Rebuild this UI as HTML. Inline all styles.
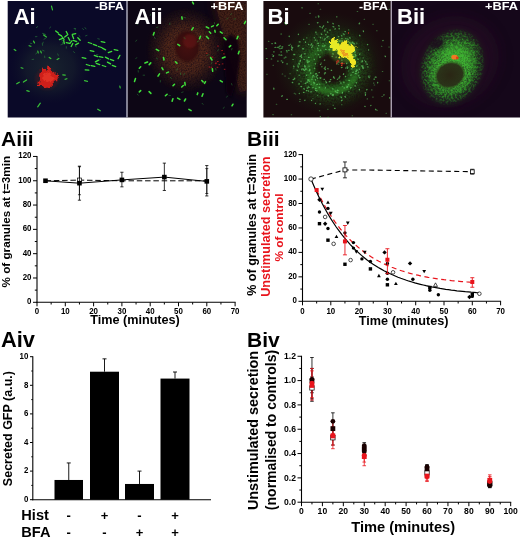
<!DOCTYPE html>
<html><head><meta charset="utf-8"><title>Figure</title>
<style>html,body{margin:0;padding:0;background:#fff}svg{display:block}</style></head>
<body>
<svg width="520" height="539" viewBox="0 0 520 539" font-family="'Liberation Sans', Arial, sans-serif" font-weight="bold">
<rect width="520" height="539" fill="#fff"/>
<defs>
<filter id="b1" x="-30%" y="-30%" width="160%" height="160%"><feGaussianBlur stdDeviation="0.45"/></filter>
<filter id="b2" x="-30%" y="-30%" width="160%" height="160%"><feGaussianBlur stdDeviation="1.2"/></filter>
<filter id="b4" x="-30%" y="-30%" width="160%" height="160%"><feGaussianBlur stdDeviation="4"/></filter>
<filter id="b7" x="-40%" y="-40%" width="180%" height="180%"><feGaussianBlur stdDeviation="7"/></filter>
<filter id="grain" x="0" y="0" width="100%" height="100%"><feTurbulence type="fractalNoise" baseFrequency="0.55" numOctaves="2" seed="5" result="n"/><feColorMatrix in="n" type="matrix" values="0 0 0 0 0 0 0 0 0 0 0 0 0 0 0 2.6 0 0 0 -0.75" result="a"/><feComposite in="SourceGraphic" in2="a" operator="in"/><feGaussianBlur stdDeviation="0.35"/></filter>
<filter id="grain2" x="0" y="0" width="100%" height="100%"><feTurbulence type="fractalNoise" baseFrequency="0.7" numOctaves="2" seed="9" result="n"/><feColorMatrix in="n" type="matrix" values="0 0 0 0 0 0 0 0 0 0 0 0 0 0 0 2.2 0 0 0 -0.45" result="a"/><feComposite in="SourceGraphic" in2="a" operator="in"/><feGaussianBlur stdDeviation="0.3"/></filter>
<filter id="grain3" x="0" y="0" width="100%" height="100%"><feTurbulence type="fractalNoise" baseFrequency="0.45" numOctaves="3" seed="21" result="n"/><feColorMatrix in="n" type="matrix" values="0 0 0 0 0 0 0 0 0 0 0 0 0 0 0 3.2 0 0 0 -1.25" result="a"/><feComposite in="SourceGraphic" in2="a" operator="in"/><feGaussianBlur stdDeviation="0.35"/></filter>
<radialGradient id="gBiiO"><stop offset="0" stop-color="#3fb832"/><stop offset="0.7" stop-color="#35a82c" stop-opacity="0.9"/><stop offset="0.9" stop-color="#2a8a25" stop-opacity="0.55"/><stop offset="1" stop-color="#1c5a18" stop-opacity="0"/></radialGradient>
<radialGradient id="gA2b"><stop offset="0" stop-color="#7a3c1e" stop-opacity="0.95"/><stop offset="0.5" stop-color="#6a361c" stop-opacity="0.9"/><stop offset="0.75" stop-color="#4a2a18" stop-opacity="0.55"/><stop offset="1" stop-color="#3a2416" stop-opacity="0"/></radialGradient>
<filter id="jag" x="-20%" y="-20%" width="140%" height="140%"><feTurbulence type="fractalNoise" baseFrequency="0.35" numOctaves="2" seed="4" result="n"/><feDisplacementMap in="SourceGraphic" in2="n" scale="5" xChannelSelector="R" yChannelSelector="G"/><feGaussianBlur stdDeviation="0.4"/></filter>
<clipPath id="cA1"><rect x="7.7" y="1" width="119.3" height="116.5"/></clipPath>
<clipPath id="cA2"><rect x="127" y="1" width="119.7" height="116.5"/></clipPath>
<clipPath id="cB1"><rect x="263.4" y="1" width="127.6" height="116.5"/></clipPath>
<clipPath id="cB2"><rect x="391" y="1" width="129" height="116.5"/></clipPath>
<radialGradient id="gBi"><stop offset="0" stop-color="#1c4a14" stop-opacity="0.3"/><stop offset="0.35" stop-color="#2a7a20" stop-opacity="0.5"/><stop offset="0.55" stop-color="#2f9028" stop-opacity="0.7"/><stop offset="0.8" stop-color="#2a7a20" stop-opacity="0.3"/><stop offset="1" stop-color="#1c4a14" stop-opacity="0"/></radialGradient>
<radialGradient id="gBi2"><stop offset="0" stop-color="#2a601e" stop-opacity="0.55"/><stop offset="0.6" stop-color="#224c1a" stop-opacity="0.35"/><stop offset="1" stop-color="#1c3014" stop-opacity="0"/></radialGradient>
<radialGradient id="gBii"><stop offset="0" stop-color="#48c43a"/><stop offset="0.65" stop-color="#42b834" stop-opacity="0.95"/><stop offset="0.85" stop-color="#38a02e" stop-opacity="0.6"/><stop offset="1" stop-color="#2a8a25" stop-opacity="0"/></radialGradient>
<radialGradient id="gNuc"><stop offset="0" stop-color="#2a2614"/><stop offset="0.78" stop-color="#2a2e18" stop-opacity="0.95"/><stop offset="1" stop-color="#2f5a1c" stop-opacity="0"/></radialGradient>
<radialGradient id="gA2"><stop offset="0" stop-color="#5a2416" stop-opacity="0.9"/><stop offset="0.5" stop-color="#4a2216" stop-opacity="0.75"/><stop offset="1" stop-color="#2a1412" stop-opacity="0"/></radialGradient>
<radialGradient id="gA2n"><stop offset="0" stop-color="#451010"/><stop offset="0.75" stop-color="#360d0e" stop-opacity="0.97"/><stop offset="1" stop-color="#30100e" stop-opacity="0"/></radialGradient>
<radialGradient id="gA1"><stop offset="0" stop-color="#1c2a30" stop-opacity="0.8"/><stop offset="0.6" stop-color="#18222c" stop-opacity="0.55"/><stop offset="1" stop-color="#101428" stop-opacity="0"/></radialGradient>
</defs>
<g clip-path="url(#cA1)">
<rect x="7" y="0" width="121" height="118" fill="#0a0928"/>
<ellipse cx="50" cy="68" rx="40" ry="36" fill="url(#gA1)"/>
<g filter="url(#jag)"><path d="M40 72 L43 67 L46 70 L48 66 L51 70 L54 72 L58 76 L57 81 L53 83 L51 87 L46 88 L42 86 L38 86 L37 83 L41 80 L39 76 Z" fill="#e3221c"/><path d="M44 74 L48 72 L52 76 L55 78 L52 81 L47 82 L43 80Z" fill="#ff4030" opacity="0.8"/></g>
<ellipse cx="47" cy="79" rx="12" ry="11" fill="#801818" opacity="0.2" filter="url(#b2)"/>
<g stroke="#3fe03a" stroke-width="1.3" stroke-linecap="round" filter="url(#b1)" opacity="1">
<path d="M55.7 30.9L58.3 33.1"/>
<path d="M58.5 34.1L61.5 35.9"/>
<path d="M61.9 36.7L64.1 39.3"/>
<path d="M64.7 37.1L67.3 34.9"/>
<path d="M68.2 37.5L69.8 40.5"/>
<path d="M69.9 43.3L72.1 40.7"/>
<path d="M72.4 35.4L73.6 38.6"/>
<path d="M73.4 40.4L76.6 41.6"/>
<path d="M75.5 44.9L78.5 43.1"/>
<path d="M66.3 42.7L69.7 43.3"/>
<path d="M63.7 40.3L64.3 43.7"/>
<path d="M77.8 37.8L80.2 40.2"/>
<path d="M71.2 46.5L72.8 43.5"/>
<path d="M59.4 39.6L62.6 38.4"/>
<path d="M66.2 31.5L67.8 34.5"/>
<path d="M72.3 34.3L75.7 33.7"/>
</g>
<g stroke="#3fe03a" stroke-width="1.3" stroke-linecap="round" filter="url(#b1)" opacity="1">
<path d="M82.2 57.7L85.8 58.3"/>
<path d="M88.3 42.5L91.7 43.5"/>
<path d="M93.3 44.4L96.7 45.6"/>
<path d="M98.3 46.5L101.7 47.5"/>
<path d="M102.4 48.2L105.6 49.8"/>
<path d="M94.3 55.4L97.7 56.6"/>
<path d="M99.2 56.7L102.8 57.3"/>
<path d="M105.4 57.1L108.6 58.9"/>
<path d="M110.3 59.4L113.7 60.6"/>
<path d="M86.3 64.5L89.7 65.5"/>
<path d="M91.2 65.7L94.8 66.3"/>
<path d="M96.3 63.4L99.7 64.6"/>
<path d="M102.3 65.5L105.7 66.5"/>
<path d="M108.3 52.6L111.7 51.4"/>
<path d="M114.2 49.7L117.8 50.3"/>
<path d="M118.1 58.6L119.9 55.4"/>
<path d="M90.2 50.7L93.8 51.3"/>
<path d="M85.2 69.8L88.8 70.2"/>
<path d="M107.4 62.1L110.6 63.9"/>
<path d="M95.4 61.9L98.6 60.1"/>
<path d="M112.3 65.4L115.7 66.6"/>
<path d="M101.2 41.7L104.8 42.3"/>
</g>
<g stroke="#3fe03a" stroke-width="1.2" stroke-linecap="round" filter="url(#b1)" opacity="0.85">
<path d="M51.5 6.1L52.5 9.9"/>
<path d="M43.6 35.0L46.4 37.0"/>
<path d="M29.1 45.7L30.9 46.3"/>
<path d="M37.8 51.0L38.2 53.0"/>
<path d="M40.7 51.1L41.3 52.9"/>
<path d="M33.5 41.1L34.5 42.9"/>
<path d="M23.4 82.1L26.6 79.9"/>
<path d="M16.7 83.8L19.3 82.2"/>
<path d="M37.7 106.8L40.3 103.2"/>
<path d="M26.8 90.6L29.2 91.4"/>
<path d="M62.8 74.8L65.2 75.2"/>
<path d="M65.1 79.3L66.9 78.7"/>
<path d="M84.5 80.7L87.5 81.3"/>
<path d="M57.1 59.5L58.9 58.5"/>
<path d="M49.2 57.4L50.8 58.6"/>
<path d="M97.7 109.2L100.3 110.8"/>
<path d="M14.2 49.4L15.8 50.6"/>
<path d="M119.8 86.0L120.2 88.0"/>
<path d="M21.1 67.7L22.9 68.3"/>
</g>
<g stroke="#2f9a40" stroke-width="0.9" stroke-linecap="round" filter="url(#b1)" opacity="0.55">
<path d="M62.4 44.4L60.9 44.8"/>
<path d="M62.8 42.0L62.4 43.5"/>
<path d="M43.2 42.2L42.6 43.7"/>
<path d="M85.0 27.6L86.0 28.9"/>
<path d="M36.8 52.7L35.9 54.0"/>
<path d="M33.7 59.3L32.1 59.5"/>
<path d="M75.1 46.2L76.5 46.9"/>
<path d="M30.3 43.3L31.8 43.6"/>
<path d="M42.5 33.4L44.1 33.5"/>
<path d="M63.2 40.0L61.8 40.8"/>
<path d="M66.3 46.6L66.3 48.2"/>
<path d="M75.9 40.4L76.9 41.6"/>
<path d="M100.5 59.5L99.1 60.2"/>
<path d="M78.9 35.5L80.1 36.6"/>
<path d="M50.8 26.9L49.6 28.0"/>
<path d="M57.7 53.9L58.3 55.4"/>
<path d="M96.3 54.7L97.9 54.7"/>
<path d="M44.6 56.1L44.8 57.7"/>
<path d="M97.8 38.7L99.4 39.1"/>
<path d="M73.5 51.6L74.6 52.8"/>
<path d="M36.9 36.6L35.3 36.7"/>
<path d="M82.5 28.6L83.6 29.7"/>
<path d="M37.7 26.6L36.4 27.6"/>
<path d="M42.3 43.8L42.6 45.4"/>
<path d="M42.6 50.3L44.1 50.9"/>
<path d="M74.9 28.3L75.3 29.9"/>
<path d="M45.7 34.4L44.1 34.5"/>
<path d="M87.0 35.4L85.5 35.9"/>
<path d="M45.5 38.4L44.0 39.2"/>
<path d="M75.7 28.5L74.1 28.5"/>
</g>
</g>
<g clip-path="url(#cA2)">
<rect x="126" y="0" width="122" height="118" fill="#0d0615"/>
<ellipse cx="186" cy="50" rx="42" ry="44" fill="url(#gA2)" opacity="0.55"/>
<g filter="url(#grain2)" opacity="0.62"><ellipse cx="186" cy="50" rx="40" ry="43" fill="url(#gA2b)"/></g>
<path d="M212 0 L249 0 L249 92 L240 96 L232 70 L224 40 L216 18Z" fill="#34180f" opacity="0.7" filter="url(#b4)"/>
<g filter="url(#grain2)" opacity="0.4"><path d="M214 0 L249 0 L249 90 L240 92 L232 66 L224 38Z" fill="#6a3a22"/></g>
<path d="M223 42 L231 34 L238 40 L240 58 L237 80 L231 98 L226 92 L225 70Z" fill="#0a0410" opacity="0.92" filter="url(#b2)"/>
<ellipse cx="187" cy="46.2" rx="14" ry="18" fill="url(#gA2n)"/>
<ellipse cx="190" cy="41" rx="7" ry="7" fill="#701612" opacity="0.5" filter="url(#b2)"/>
<g stroke="#3fe03a" stroke-width="1.55" stroke-linecap="round" filter="url(#b1)" opacity="1">
<path d="M181.8 16.9L182.2 19.1"/>
<path d="M191.8 29.9L193.2 27.6"/>
<path d="M206.3 26.8L208.7 28.2"/>
<path d="M211.6 26.6L213.4 25.9"/>
<path d="M216.8 25.7L218.2 24.3"/>
<path d="M214.8 30.4L215.2 32.1"/>
<path d="M220.3 31.9L222.2 33.1"/>
<path d="M209.3 31.8L210.7 33.2"/>
<path d="M224.0 37.8L226.0 39.7"/>
<path d="M237.0 38.8L238.0 36.2"/>
<path d="M238.3 53.7L239.2 51.3"/>
<path d="M210.5 57.5L212.0 60.0"/>
<path d="M212.3 68.7L212.7 71.3"/>
<path d="M153.3 35.0L154.2 32.5"/>
<path d="M163.5 57.5L164.0 60.0"/>
<path d="M144.9 63.0L147.6 62.0"/>
<path d="M149.2 64.6L150.8 62.9"/>
<path d="M139.3 68.2L140.7 66.8"/>
<path d="M162.0 67.8L163.0 69.7"/>
<path d="M166.5 72.9L168.5 72.1"/>
<path d="M175.5 61.7L177.0 63.3"/>
<path d="M134.5 81.4L135.5 78.6"/>
<path d="M139.3 91.9L140.7 90.6"/>
<path d="M149.1 91.6L150.9 93.4"/>
<path d="M173.0 85.8L174.5 84.2"/>
<path d="M184.8 82.4L185.2 85.1"/>
<path d="M181.7 87.0L183.3 85.5"/>
<path d="M201.8 80.5L203.2 82.0"/>
<path d="M204.5 83.4L205.5 81.6"/>
<path d="M220.2 80.6L222.3 81.9"/>
<path d="M197.2 94.6L197.8 92.9"/>
<path d="M202.0 96.3L203.0 93.7"/>
<path d="M177.6 98.1L179.9 99.4"/>
<path d="M172.1 101.2L172.9 98.8"/>
<path d="M184.4 101.0L185.6 99.0"/>
<path d="M188.9 109.3L191.1 110.7"/>
<path d="M232.0 105.8L233.0 104.2"/>
<path d="M165.4 95.8L167.1 94.2"/>
<path d="M192.5 2.1L193.5 3.9"/>
<path d="M229.3 46.9L230.7 45.6"/>
<path d="M156.3 49.3L158.7 50.7"/>
<path d="M199.5 38.8L200.5 36.2"/>
<path d="M177.8 44.4L179.7 45.6"/>
<path d="M206.5 36.5L208.5 38.5"/>
<path d="M222.4 58.0L225.1 57.0"/>
<path d="M158.0 76.2L159.5 73.8"/>
<path d="M244.4 23.6L245.6 21.4"/>
</g>
<g stroke="#2f9a40" stroke-width="0.9" stroke-linecap="round" filter="url(#b1)" opacity="0.5">
<path d="M177.3 68.7L176.8 70.1"/>
<path d="M144.6 75.2L143.1 75.2"/>
<path d="M231.5 83.6L232.0 85.0"/>
<path d="M215.7 68.5L216.0 70.0"/>
<path d="M227.8 18.0L226.7 19.1"/>
<path d="M138.2 70.6L138.3 72.1"/>
<path d="M160.3 80.5L160.3 82.0"/>
<path d="M202.1 103.3L203.1 104.4"/>
<path d="M136.6 40.1L135.8 41.3"/>
<path d="M158.0 27.1L156.6 27.5"/>
<path d="M208.3 54.8L206.9 55.3"/>
<path d="M170.4 77.5L171.6 78.4"/>
<path d="M183.1 92.0L181.7 92.4"/>
<path d="M232.0 48.5L231.6 49.9"/>
<path d="M169.8 23.1L169.8 24.6"/>
<path d="M227.5 96.0L226.6 97.2"/>
<path d="M238.9 37.9L240.1 38.6"/>
<path d="M184.0 37.6L185.2 38.5"/>
<path d="M180.5 73.1L180.6 74.6"/>
<path d="M170.4 95.5L168.9 95.6"/>
<path d="M184.0 17.5L185.5 17.7"/>
<path d="M231.5 13.6L230.6 14.8"/>
<path d="M198.4 41.1L197.2 42.0"/>
<path d="M137.0 23.1L137.2 24.6"/>
<path d="M137.2 94.1L138.3 95.1"/>
<path d="M150.8 14.1L150.2 15.5"/>
<path d="M184.5 73.6L183.8 74.9"/>
<path d="M224.2 107.1L223.4 108.4"/>
<path d="M156.3 58.1L157.6 58.9"/>
<path d="M136.7 57.6L135.7 58.8"/>
<path d="M154.4 37.1L155.1 38.4"/>
<path d="M212.0 62.4L211.4 63.8"/>
<path d="M218.8 49.7L217.6 50.6"/>
<path d="M235.4 18.7L234.0 19.1"/>
<path d="M214.4 22.5L214.6 24.0"/>
</g>
<g stroke="#d02020" stroke-width="0.9" stroke-linecap="round" filter="url(#b1)" opacity="0.8">
<path d="M217.1 67.3L217.9 67.3"/>
<path d="M212.1 57.1L212.9 57.1"/>
<path d="M222.2 63.9L223.0 63.9"/>
<path d="M223.5 53.9L224.3 53.9"/>
<path d="M217.6 46.1L218.4 46.1"/>
<path d="M219.0 64.6L219.8 64.6"/>
<path d="M217.4 61.5L218.2 61.5"/>
<path d="M208.9 67.0L209.7 67.0"/>
<path d="M224.2 69.3L225.0 69.3"/>
<path d="M215.3 63.7L216.1 63.7"/>
<path d="M211.0 67.3L211.8 67.3"/>
<path d="M221.7 50.5L222.5 50.5"/>
<path d="M206.3 53.2L207.1 53.2"/>
<path d="M215.6 63.0L216.4 63.0"/>
</g>
</g>
<g clip-path="url(#cB1)">
<rect x="262" y="0" width="130" height="118" fill="#190b0e"/>
<ellipse cx="330" cy="64" rx="56" ry="52" fill="url(#gBi2)"/>
<g filter="url(#grain)" opacity="0.65"><ellipse cx="332" cy="67" rx="46" ry="44" fill="url(#gBi)"/></g>
<ellipse cx="332" cy="68" rx="23" ry="22" fill="none" stroke="#2a7a24" stroke-width="8" opacity="0.38" filter="url(#b2)"/>
<path d="M309 78 Q316 93 334 92 Q350 90 356 76" fill="none" stroke="#309028" stroke-width="5" opacity="0.42" filter="url(#b2)"/>
<ellipse cx="332" cy="68.5" rx="15.5" ry="15" fill="#1b110c" opacity="0.85" filter="url(#b2)"/>
<g stroke="#62d066" stroke-width="1.25" stroke-linecap="round" filter="url(#b1)" opacity="0.7">
<path d="M342.1 38.3L341.8 38.5"/>
<path d="M327.8 68.7L328.1 68.8"/>
<path d="M359.6 23.1L359.1 23.8"/>
<path d="M320.4 64.4L320.7 64.5"/>
<path d="M327.2 36.9L326.9 37.5"/>
<path d="M346.0 43.2L346.2 43.6"/>
<path d="M342.1 100.2L341.4 100.6"/>
<path d="M273.5 55.8L273.4 56.1"/>
<path d="M299.2 41.8L300.1 41.9"/>
<path d="M300.4 61.0L300.0 61.3"/>
<path d="M377.7 82.4L377.6 82.9"/>
<path d="M338.6 61.8L338.9 62.2"/>
<path d="M342.3 40.9L341.8 41.1"/>
<path d="M319.2 87.2L319.7 87.5"/>
<path d="M334.4 46.6L334.7 46.6"/>
<path d="M335.2 91.0L335.4 91.3"/>
<path d="M328.9 49.7L329.4 49.9"/>
<path d="M330.9 93.4L330.9 93.9"/>
<path d="M304.0 59.4L304.3 59.5"/>
<path d="M312.7 45.6L312.5 46.2"/>
<path d="M349.2 42.6L349.8 43.0"/>
<path d="M345.4 31.6L345.0 31.7"/>
<path d="M337.8 92.7L337.0 92.7"/>
<path d="M375.5 109.3L376.0 109.8"/>
<path d="M342.9 45.0L342.7 45.2"/>
<path d="M315.6 73.8L315.5 73.9"/>
<path d="M347.4 54.8L347.1 54.8"/>
<path d="M282.9 62.2L282.5 62.6"/>
<path d="M358.4 75.9L359.0 76.0"/>
<path d="M308.0 61.9L307.9 62.2"/>
<path d="M338.4 53.6L338.1 53.7"/>
<path d="M353.4 72.2L352.8 72.3"/>
<path d="M305.9 68.5L306.1 69.1"/>
<path d="M362.9 66.1L362.5 66.7"/>
<path d="M329.7 46.4L329.8 46.8"/>
<path d="M348.9 91.4L348.9 91.6"/>
<path d="M318.0 22.6L317.4 22.8"/>
<path d="M299.1 83.6L299.0 84.1"/>
<path d="M328.3 117.3L327.6 117.5"/>
<path d="M332.9 53.5L333.1 54.3"/>
<path d="M335.4 28.8L335.0 29.1"/>
<path d="M324.5 30.9L324.9 31.0"/>
<path d="M314.2 83.4L314.1 83.8"/>
<path d="M353.3 56.3L353.7 56.9"/>
<path d="M301.6 86.5L300.9 86.5"/>
<path d="M325.0 45.5L324.3 46.1"/>
<path d="M327.6 22.0L327.9 22.3"/>
<path d="M358.5 72.1L358.6 72.3"/>
<path d="M309.0 57.4L308.4 57.4"/>
<path d="M401.2 61.7L400.8 62.4"/>
<path d="M333.0 26.7L333.8 26.8"/>
<path d="M343.8 82.2L343.9 82.5"/>
<path d="M374.5 79.1L374.0 79.2"/>
<path d="M307.0 60.1L307.2 60.5"/>
<path d="M325.5 87.7L325.2 88.1"/>
<path d="M367.8 66.9L368.0 67.0"/>
<path d="M305.9 83.1L305.2 83.3"/>
<path d="M376.1 77.2L375.2 77.2"/>
<path d="M273.8 88.2L273.9 89.1"/>
<path d="M332.4 94.7L332.3 95.5"/>
<path d="M342.1 62.5L342.0 62.8"/>
<path d="M303.7 39.3L303.7 39.6"/>
<path d="M359.3 89.3L359.4 89.9"/>
<path d="M314.3 68.1L314.7 68.5"/>
<path d="M281.8 55.2L280.9 55.2"/>
<path d="M327.9 36.4L328.1 36.5"/>
<path d="M298.3 34.2L298.5 34.5"/>
<path d="M316.0 32.0L315.9 32.6"/>
<path d="M345.0 96.5L345.6 97.1"/>
<path d="M367.7 44.5L367.5 44.6"/>
<path d="M306.6 75.2L306.5 75.4"/>
<path d="M299.9 56.4L300.5 56.6"/>
<path d="M299.3 93.3L299.3 93.6"/>
<path d="M320.9 77.8L320.4 78.4"/>
<path d="M338.0 47.7L337.7 48.3"/>
<path d="M337.6 90.1L338.1 90.7"/>
<path d="M365.7 61.6L366.0 62.1"/>
<path d="M330.3 30.1L329.8 30.2"/>
<path d="M353.5 43.2L354.1 43.4"/>
<path d="M298.0 66.5L298.4 67.1"/>
<path d="M318.3 45.6L318.7 45.7"/>
<path d="M325.8 34.6L326.0 34.9"/>
<path d="M307.0 87.9L307.6 88.1"/>
<path d="M292.7 47.5L291.8 47.7"/>
<path d="M341.6 35.7L341.8 36.0"/>
<path d="M313.6 75.7L312.8 75.9"/>
<path d="M315.4 79.7L315.5 80.1"/>
<path d="M342.5 92.4L342.3 93.1"/>
<path d="M275.1 42.8L275.7 43.2"/>
<path d="M345.4 51.7L345.5 51.9"/>
<path d="M292.5 48.1L291.9 48.1"/>
<path d="M340.0 40.7L339.9 41.5"/>
<path d="M329.8 49.4L329.6 49.5"/>
<path d="M311.7 43.9L311.3 44.4"/>
<path d="M333.5 42.4L333.1 42.7"/>
<path d="M317.5 84.4L316.8 84.5"/>
<path d="M323.6 25.8L323.1 26.5"/>
<path d="M325.3 67.0L324.9 67.7"/>
<path d="M350.3 49.4L349.7 49.5"/>
<path d="M273.6 55.8L273.1 56.4"/>
<path d="M351.2 87.4L350.6 88.0"/>
<path d="M316.5 76.8L316.8 77.0"/>
<path d="M357.8 59.2L358.2 59.3"/>
<path d="M343.7 73.7L343.4 74.4"/>
<path d="M304.4 70.4L304.1 70.5"/>
<path d="M356.2 82.7L356.5 82.9"/>
<path d="M336.0 91.9L336.2 92.2"/>
<path d="M332.9 23.3L333.3 23.8"/>
<path d="M330.1 81.4L329.3 81.7"/>
<path d="M311.1 91.3L311.0 92.2"/>
<path d="M356.5 71.3L355.7 71.4"/>
<path d="M312.0 79.1L311.9 79.5"/>
<path d="M334.5 108.3L335.1 108.3"/>
<path d="M325.5 69.1L325.2 69.6"/>
<path d="M317.0 90.6L316.5 90.8"/>
<path d="M318.2 50.2L317.8 50.2"/>
<path d="M333.4 44.1L334.2 44.1"/>
<path d="M336.0 57.1L336.4 57.2"/>
<path d="M305.6 66.9L305.0 67.0"/>
<path d="M342.4 50.5L342.9 51.1"/>
<path d="M384.1 94.8L383.8 95.0"/>
<path d="M293.9 54.4L293.9 54.7"/>
<path d="M324.0 79.3L324.4 79.4"/>
<path d="M303.9 69.0L303.6 69.3"/>
<path d="M308.9 79.9L308.2 80.0"/>
<path d="M320.3 50.2L320.8 50.2"/>
<path d="M304.3 53.8L305.2 53.8"/>
<path d="M338.9 40.7L339.4 41.1"/>
<path d="M301.5 57.0L301.7 57.4"/>
<path d="M314.2 37.6L314.4 37.8"/>
<path d="M355.8 55.8L355.5 56.1"/>
<path d="M345.7 38.3L345.9 38.4"/>
<path d="M319.8 26.5L320.2 26.8"/>
<path d="M346.9 40.2L346.8 40.4"/>
<path d="M348.8 80.3L349.6 80.5"/>
<path d="M310.7 72.8L310.7 73.5"/>
<path d="M309.2 81.2L309.2 81.4"/>
<path d="M282.3 95.7L281.8 96.4"/>
<path d="M318.2 54.7L318.6 54.7"/>
<path d="M304.9 100.2L304.8 100.5"/>
<path d="M338.7 36.5L338.2 36.8"/>
<path d="M347.7 86.7L347.1 87.3"/>
<path d="M298.8 63.8L299.4 64.1"/>
<path d="M362.5 61.3L362.0 61.9"/>
<path d="M310.8 45.2L311.0 45.3"/>
<path d="M333.6 130.1L333.4 130.8"/>
<path d="M306.5 90.4L306.5 90.7"/>
<path d="M395.3 54.0L396.0 54.3"/>
<path d="M291.5 49.5L292.1 50.1"/>
<path d="M347.0 63.1L346.5 63.5"/>
<path d="M320.3 103.9L320.0 104.0"/>
<path d="M291.7 46.0L291.4 46.2"/>
<path d="M347.1 66.8L347.8 67.3"/>
<path d="M355.5 54.7L355.9 55.3"/>
<path d="M324.3 60.1L324.7 60.2"/>
<path d="M296.9 70.2L297.4 70.4"/>
<path d="M308.8 61.3L309.2 61.7"/>
<path d="M315.4 88.4L316.1 88.4"/>
<path d="M289.2 36.1L289.2 36.6"/>
<path d="M285.0 22.3L284.6 23.0"/>
<path d="M337.1 63.7L336.6 63.9"/>
<path d="M294.7 78.2L294.5 79.0"/>
<path d="M293.6 79.4L293.2 79.6"/>
<path d="M342.1 67.4L341.4 67.6"/>
<path d="M315.5 103.3L315.4 103.5"/>
<path d="M355.1 85.5L355.2 86.1"/>
<path d="M320.4 37.5L320.7 37.8"/>
<path d="M307.6 80.0L308.5 80.2"/>
<path d="M363.3 30.8L363.5 31.6"/>
<path d="M333.7 76.7L333.5 77.6"/>
<path d="M365.5 94.4L365.4 95.3"/>
<path d="M366.9 64.0L367.2 64.3"/>
<path d="M339.1 58.0L339.2 58.5"/>
<path d="M302.6 48.8L303.4 48.9"/>
<path d="M347.6 57.4L347.1 57.5"/>
<path d="M341.0 97.0L341.5 97.7"/>
<path d="M342.0 47.4L342.2 47.9"/>
<path d="M339.6 77.7L338.8 78.1"/>
<path d="M337.6 79.2L337.4 79.3"/>
<path d="M367.0 89.5L366.7 89.8"/>
<path d="M318.3 16.0L318.9 16.3"/>
<path d="M368.6 49.8L368.6 50.1"/>
<path d="M324.1 39.8L324.4 40.0"/>
<path d="M315.5 40.0L315.2 40.2"/>
<path d="M298.8 45.4L299.1 45.7"/>
<path d="M383.1 40.4L382.9 40.7"/>
<path d="M362.2 60.7L362.1 61.3"/>
<path d="M345.9 67.8L345.8 68.1"/>
<path d="M351.1 74.9L350.8 75.2"/>
<path d="M320.3 116.6L320.2 117.0"/>
<path d="M405.1 78.1L405.2 78.8"/>
<path d="M287.4 99.3L286.8 99.4"/>
<path d="M317.6 48.2L317.9 48.8"/>
<path d="M339.2 28.4L339.2 28.9"/>
<path d="M300.5 60.4L300.2 60.4"/>
<path d="M338.6 25.7L339.2 26.0"/>
<path d="M332.4 56.3L332.1 56.5"/>
<path d="M293.5 66.1L294.0 66.5"/>
<path d="M320.0 56.6L319.9 57.4"/>
<path d="M340.6 83.0L341.1 83.1"/>
<path d="M328.3 95.5L328.1 95.7"/>
<path d="M346.3 54.6L346.2 55.1"/>
<path d="M348.2 84.8L348.7 84.8"/>
<path d="M311.7 47.1L311.7 47.5"/>
<path d="M337.9 50.5L338.2 50.7"/>
<path d="M347.4 86.7L346.7 87.1"/>
<path d="M308.4 86.9L309.1 87.4"/>
<path d="M347.3 67.7L347.4 68.4"/>
<path d="M309.9 69.5L309.7 69.6"/>
<path d="M331.2 70.2L331.6 70.4"/>
<path d="M360.1 77.6L359.4 77.6"/>
<path d="M327.3 31.9L327.6 32.2"/>
<path d="M305.6 69.7L305.1 69.8"/>
<path d="M324.5 73.7L324.4 73.9"/>
<path d="M368.9 77.0L369.2 77.6"/>
<path d="M351.0 43.0L350.7 43.8"/>
<path d="M349.8 37.6L350.1 38.3"/>
<path d="M337.2 90.5L337.7 90.8"/>
<path d="M334.5 77.8L334.5 78.2"/>
<path d="M309.9 70.7L309.2 70.7"/>
<path d="M316.9 75.2L317.6 75.4"/>
<path d="M317.4 78.2L317.6 78.4"/>
<path d="M319.3 72.4L319.1 72.7"/>
<path d="M313.5 82.3L314.3 82.7"/>
<path d="M324.8 30.2L324.6 30.2"/>
<path d="M311.5 100.3L311.6 100.5"/>
<path d="M334.2 41.4L334.2 41.6"/>
<path d="M312.6 77.0L312.8 77.1"/>
<path d="M359.1 69.0L359.4 69.4"/>
<path d="M294.2 54.4L294.8 54.7"/>
<path d="M317.7 43.3L318.0 43.5"/>
<path d="M318.6 16.8L318.7 17.2"/>
<path d="M325.8 81.1L325.9 81.4"/>
<path d="M351.3 68.9L352.0 68.9"/>
<path d="M385.1 56.1L385.5 56.6"/>
<path d="M354.5 51.7L355.1 52.2"/>
<path d="M359.6 35.3L360.0 35.8"/>
<path d="M389.7 97.6L389.8 98.1"/>
<path d="M315.6 90.0L315.6 90.4"/>
<path d="M339.8 76.2L339.9 76.7"/>
<path d="M332.5 88.8L333.0 89.0"/>
<path d="M292.3 82.4L292.8 82.7"/>
<path d="M325.6 49.4L326.1 49.5"/>
<path d="M303.5 92.3L304.0 92.4"/>
<path d="M298.2 45.9L298.2 46.4"/>
<path d="M330.4 79.6L330.9 79.6"/>
<path d="M328.4 95.9L328.3 96.2"/>
<path d="M302.1 68.8L301.8 69.6"/>
<path d="M360.0 53.9L359.6 54.3"/>
<path d="M305.5 41.8L305.6 42.3"/>
<path d="M354.6 43.9L354.4 43.9"/>
<path d="M370.9 105.3L370.8 105.7"/>
<path d="M364.8 106.3L365.1 106.5"/>
<path d="M301.9 7.8L302.1 7.9"/>
<path d="M333.3 94.6L333.3 95.3"/>
<path d="M301.3 55.2L301.2 55.9"/>
<path d="M313.1 87.6L312.7 87.8"/>
<path d="M325.2 38.5L324.7 39.2"/>
<path d="M308.7 44.3L308.6 44.7"/>
<path d="M326.5 82.5L326.1 82.9"/>
<path d="M319.7 84.1L319.7 84.3"/>
<path d="M356.6 73.8L356.9 73.8"/>
<path d="M321.9 66.5L321.9 66.8"/>
<path d="M344.1 50.8L343.9 50.9"/>
<path d="M338.0 43.0L337.8 43.3"/>
<path d="M322.2 27.5L322.4 27.9"/>
<path d="M343.4 42.5L343.6 43.2"/>
<path d="M286.6 24.1L285.9 24.5"/>
<path d="M318.3 43.3L318.6 43.5"/>
<path d="M357.0 65.6L356.7 66.4"/>
<path d="M322.8 45.9L323.0 46.6"/>
<path d="M324.4 68.6L324.2 68.6"/>
<path d="M356.9 70.0L356.3 70.7"/>
<path d="M345.5 76.4L345.6 76.6"/>
<path d="M303.9 88.6L304.3 89.2"/>
<path d="M347.9 38.9L348.1 39.5"/>
<path d="M307.1 81.8L307.0 82.5"/>
<path d="M384.4 128.2L384.7 128.4"/>
<path d="M304.7 65.7L305.1 65.8"/>
<path d="M362.7 67.4L363.3 67.7"/>
<path d="M304.8 66.6L304.9 66.8"/>
<path d="M355.7 73.4L355.3 73.6"/>
<path d="M309.2 66.1L308.8 66.1"/>
<path d="M352.4 42.1L352.6 42.8"/>
<path d="M301.4 55.0L301.3 55.3"/>
<path d="M342.1 60.0L341.6 60.0"/>
<path d="M344.1 87.9L344.4 87.9"/>
<path d="M365.1 92.8L365.6 92.9"/>
<path d="M307.1 61.8L307.8 62.3"/>
<path d="M362.0 65.6L362.0 66.3"/>
<path d="M316.6 73.6L316.0 74.0"/>
<path d="M336.9 16.8L336.7 16.8"/>
<path d="M321.2 33.9L321.8 34.4"/>
<path d="M362.8 68.2L363.2 68.5"/>
<path d="M343.9 34.1L344.2 34.7"/>
<path d="M308.0 90.6L308.6 91.2"/>
<path d="M325.0 72.6L325.6 73.0"/>
<path d="M314.4 59.3L314.2 59.6"/>
<path d="M320.1 77.5L320.1 77.7"/>
<path d="M315.3 63.6L315.4 64.0"/>
</g>
<g stroke="#52c058" stroke-width="1.2" stroke-linecap="round" filter="url(#b1)" opacity="0.65">
<path d="M265.9 48.6L266.5 48.6"/>
<path d="M286.8 63.9L287.4 63.9"/>
<path d="M277.6 61.1L278.2 61.1"/>
<path d="M298.8 63.2L299.4 63.2"/>
<path d="M266.5 58.5L267.1 58.5"/>
<path d="M284.1 58.0L284.7 58.0"/>
<path d="M281.5 48.4L282.1 48.4"/>
<path d="M281.2 60.9L281.8 60.9"/>
<path d="M288.5 50.3L289.1 50.3"/>
<path d="M285.4 57.2L286.0 57.2"/>
<path d="M286.7 51.8L287.3 51.8"/>
<path d="M278.2 47.6L278.8 47.6"/>
<path d="M279.7 48.7L280.3 48.7"/>
<path d="M271.8 43.6L272.4 43.6"/>
<path d="M288.8 45.4L289.4 45.4"/>
<path d="M273.6 51.8L274.2 51.8"/>
<path d="M292.8 59.5L293.4 59.5"/>
<path d="M279.9 45.9L280.5 45.9"/>
<path d="M279.0 46.6L279.6 46.6"/>
<path d="M278.9 54.9L279.5 54.9"/>
<path d="M275.3 47.4L275.9 47.4"/>
<path d="M280.9 51.9L281.5 51.9"/>
<path d="M277.4 47.3L278.0 47.3"/>
<path d="M274.9 47.5L275.5 47.5"/>
<path d="M286.4 50.6L287.0 50.6"/>
<path d="M261.1 55.7L261.7 55.7"/>
<path d="M282.2 46.8L282.8 46.8"/>
<path d="M280.9 34.0L281.5 34.0"/>
<path d="M271.2 59.0L271.8 59.0"/>
<path d="M297.6 65.0L298.2 65.0"/>
</g>
<g stroke="#52b058" stroke-width="1.1" stroke-linecap="round" filter="url(#b1)" opacity="0.55">
<path d="M325.6 28.7L326.1 28.7"/>
<path d="M369.6 76.0L370.1 76.0"/>
<path d="M381.9 96.5L382.4 96.5"/>
<path d="M364.3 60.3L364.8 60.3"/>
<path d="M389.0 9.4L389.5 9.4"/>
<path d="M373.4 83.1L373.9 83.1"/>
<path d="M295.3 94.0L295.8 94.0"/>
<path d="M321.0 63.1L321.5 63.1"/>
<path d="M372.8 24.3L373.3 24.3"/>
<path d="M299.0 75.4L299.5 75.4"/>
<path d="M273.0 65.3L273.5 65.3"/>
<path d="M362.9 57.9L363.4 57.9"/>
<path d="M294.2 93.2L294.7 93.2"/>
<path d="M371.5 89.9L372.0 89.9"/>
<path d="M333.0 105.2L333.5 105.2"/>
<path d="M364.1 19.3L364.6 19.3"/>
<path d="M309.8 13.4L310.3 13.4"/>
<path d="M268.4 41.4L268.9 41.4"/>
<path d="M372.7 97.1L373.2 97.1"/>
<path d="M278.5 22.7L279.0 22.7"/>
<path d="M312.7 98.8L313.2 98.8"/>
<path d="M341.5 104.8L342.0 104.8"/>
<path d="M272.8 114.6L273.3 114.6"/>
<path d="M289.8 73.7L290.3 73.7"/>
<path d="M374.2 85.0L374.7 85.0"/>
<path d="M288.6 78.2L289.1 78.2"/>
<path d="M318.0 3.8L318.5 3.8"/>
<path d="M306.5 37.9L307.0 37.9"/>
<path d="M343.1 33.8L343.6 33.8"/>
<path d="M339.7 81.2L340.2 81.2"/>
<path d="M286.5 16.6L287.0 16.6"/>
<path d="M351.2 55.2L351.7 55.2"/>
<path d="M280.0 15.2L280.5 15.2"/>
<path d="M382.3 71.5L382.8 71.5"/>
<path d="M308.8 24.4L309.3 24.4"/>
<path d="M389.1 80.8L389.6 80.8"/>
<path d="M356.5 43.1L357.0 43.1"/>
<path d="M302.8 48.5L303.3 48.5"/>
<path d="M282.2 74.0L282.7 74.0"/>
<path d="M317.3 95.5L317.8 95.5"/>
<path d="M315.3 54.1L315.8 54.1"/>
<path d="M327.6 109.3L328.1 109.3"/>
<path d="M307.4 82.2L307.9 82.2"/>
<path d="M293.4 68.0L293.9 68.0"/>
<path d="M299.6 101.5L300.1 101.5"/>
<path d="M299.8 99.4L300.3 99.4"/>
<path d="M349.0 53.9L349.5 53.9"/>
<path d="M381.4 46.2L381.9 46.2"/>
<path d="M357.4 70.5L357.9 70.5"/>
<path d="M320.2 9.3L320.7 9.3"/>
<path d="M316.6 34.1L317.1 34.1"/>
<path d="M319.3 110.8L319.8 110.8"/>
<path d="M300.7 81.2L301.2 81.2"/>
<path d="M348.4 29.9L348.9 29.9"/>
<path d="M315.6 17.1L316.1 17.1"/>
<path d="M376.6 30.7L377.1 30.7"/>
<path d="M316.8 40.9L317.3 40.9"/>
<path d="M367.1 98.9L367.6 98.9"/>
<path d="M338.2 64.2L338.7 64.2"/>
<path d="M276.3 104.2L276.8 104.2"/>
<path d="M274.9 43.4L275.4 43.4"/>
<path d="M310.9 84.4L311.4 84.4"/>
<path d="M348.1 41.2L348.6 41.2"/>
<path d="M376.9 110.3L377.4 110.3"/>
<path d="M266.7 74.2L267.2 74.2"/>
<path d="M322.9 43.2L323.4 43.2"/>
<path d="M322.3 38.0L322.8 38.0"/>
<path d="M348.3 71.0L348.8 71.0"/>
<path d="M386.0 113.3L386.5 113.3"/>
<path d="M388.8 47.0L389.3 47.0"/>
<path d="M368.2 76.1L368.7 76.1"/>
<path d="M352.1 115.7L352.6 115.7"/>
<path d="M272.1 54.7L272.6 54.7"/>
<path d="M314.3 76.8L314.8 76.8"/>
<path d="M291.2 114.8L291.7 114.8"/>
<path d="M290.1 44.2L290.6 44.2"/>
<path d="M281.8 47.0L282.3 47.0"/>
<path d="M357.2 11.5L357.7 11.5"/>
<path d="M284.8 76.0L285.3 76.0"/>
<path d="M342.2 86.6L342.7 86.6"/>
</g>
<ellipse cx="343" cy="51" rx="14" ry="12" fill="#6ab030" opacity="0.3" filter="url(#b2)"/>
<g filter="url(#jag)"><path d="M330 41 L333 37 L336 40 L337 44 L340 46 L343 41 L346 40 L348 44 L352 45 L356 48 L354 52 L351 54 L354 57 L356 62 L355 67 L352 68 L350 63 L348 59 L344 58 L340 57 L337 54 L338 50 L334 49 L330 46Z" fill="#eee522"/><path d="M331 42 L336 39 L340 44 L339 50 L334 51 L330 47Z" fill="#e6ea28"/><path d="M341 49 L345 52 L349 55 L347 57 L342 54Z" fill="#e87a20" opacity="0.7"/><circle cx="342" cy="64" r="1.6" fill="#c83a20"/><circle cx="349" cy="33" r="0.9" fill="#d83020"/><circle cx="337" cy="62" r="1.2" fill="#b03020" opacity="0.8"/></g>
</g>
<g clip-path="url(#cB2)">
<rect x="390" y="0" width="130" height="118" fill="#15071a"/>
<ellipse cx="450" cy="62" rx="50" ry="44" transform="rotate(-30 450 62)" fill="#2a1028" opacity="0.55" filter="url(#b7)"/>
<ellipse cx="452" cy="67" rx="27" ry="35" transform="rotate(22 452 67)" fill="#2a8a25" opacity="0.4" filter="url(#b4)"/>
<g filter="url(#grain3)" opacity="0.85"><ellipse cx="452" cy="67" rx="32" ry="40" transform="rotate(22 452 67)" fill="url(#gBiiO)"/></g>
<g filter="url(#grain2)" opacity="0.8"><ellipse cx="452.5" cy="69" rx="25" ry="28" transform="rotate(30 452 69)" fill="url(#gBii)"/></g>
<ellipse cx="458" cy="55" rx="14" ry="11" fill="#44c636" opacity="0.4" filter="url(#b4)"/>
<ellipse cx="450" cy="75" rx="16.5" ry="14" transform="rotate(-25 450 75)" fill="url(#gNuc)"/>
<ellipse cx="437" cy="44" rx="7" ry="4.5" transform="rotate(-20 437 44)" fill="#1a0a1c" opacity="0.85" filter="url(#b2)"/>
<ellipse cx="454.5" cy="57.2" rx="3.2" ry="2.4" fill="#f07a20" filter="url(#b1)"/><circle cx="457.3" cy="58" r="1.4" fill="#e03a18" filter="url(#b1)"/>
</g>
<rect x="126.3" y="1" width="1.4" height="116.5" fill="#b4b4c4"/>
<rect x="390.6" y="1" width="1.3" height="116.5" fill="#b8b0c0"/>
<text x="13.7" y="24" font-size="22" fill="#fff" text-anchor="start">Ai</text>
<text x="134.5" y="24" font-size="22" fill="#fff" text-anchor="start">Aii</text>
<text x="267.6" y="24" font-size="22" fill="#fff" text-anchor="start">Bi</text>
<text x="397" y="24" font-size="22" fill="#fff" text-anchor="start">Bii</text>
<text x="95" y="9.9" font-size="11.3" fill="#fff" textLength="28.8" lengthAdjust="spacingAndGlyphs">-BFA</text>
<text x="210.6" y="9.8" font-size="11.3" fill="#fff" textLength="33" lengthAdjust="spacingAndGlyphs">+BFA</text>
<text x="359" y="9.9" font-size="11.3" fill="#fff" textLength="28.8" lengthAdjust="spacingAndGlyphs">-BFA</text>
<text x="485" y="9.8" font-size="11.3" fill="#fff" textLength="33" lengthAdjust="spacingAndGlyphs">+BFA</text>
<line x1="37.00" y1="302.80" x2="37.00" y2="155.94" stroke="#000" stroke-width="1.1" />
<line x1="36.50" y1="302.30" x2="235.60" y2="302.30" stroke="#000" stroke-width="1.1" />
<line x1="37.00" y1="302.30" x2="37.00" y2="306.30" stroke="#000" stroke-width="1.0" />
<text x="37.0" y="314.4" font-size="9" text-anchor="middle" fill="#000" textLength="4.40" lengthAdjust="spacingAndGlyphs">0</text>
<line x1="65.30" y1="302.30" x2="65.30" y2="306.30" stroke="#000" stroke-width="1.0" />
<text x="65.3" y="314.4" font-size="9" text-anchor="middle" fill="#000" textLength="8.81" lengthAdjust="spacingAndGlyphs">10</text>
<line x1="93.60" y1="302.30" x2="93.60" y2="306.30" stroke="#000" stroke-width="1.0" />
<text x="93.6" y="314.4" font-size="9" text-anchor="middle" fill="#000" textLength="8.81" lengthAdjust="spacingAndGlyphs">20</text>
<line x1="121.90" y1="302.30" x2="121.90" y2="306.30" stroke="#000" stroke-width="1.0" />
<text x="121.9" y="314.4" font-size="9" text-anchor="middle" fill="#000" textLength="8.81" lengthAdjust="spacingAndGlyphs">30</text>
<line x1="150.20" y1="302.30" x2="150.20" y2="306.30" stroke="#000" stroke-width="1.0" />
<text x="150.2" y="314.4" font-size="9" text-anchor="middle" fill="#000" textLength="8.81" lengthAdjust="spacingAndGlyphs">40</text>
<line x1="178.50" y1="302.30" x2="178.50" y2="306.30" stroke="#000" stroke-width="1.0" />
<text x="178.5" y="314.4" font-size="9" text-anchor="middle" fill="#000" textLength="8.81" lengthAdjust="spacingAndGlyphs">50</text>
<line x1="206.80" y1="302.30" x2="206.80" y2="306.30" stroke="#000" stroke-width="1.0" />
<text x="206.8" y="314.4" font-size="9" text-anchor="middle" fill="#000" textLength="8.81" lengthAdjust="spacingAndGlyphs">60</text>
<line x1="235.10" y1="302.30" x2="235.10" y2="306.30" stroke="#000" stroke-width="1.0" />
<text x="235.1" y="314.4" font-size="9" text-anchor="middle" fill="#000" textLength="8.81" lengthAdjust="spacingAndGlyphs">70</text>
<line x1="51.15" y1="302.30" x2="51.15" y2="304.50" stroke="#000" stroke-width="1.0" />
<line x1="79.45" y1="302.30" x2="79.45" y2="304.50" stroke="#000" stroke-width="1.0" />
<line x1="107.75" y1="302.30" x2="107.75" y2="304.50" stroke="#000" stroke-width="1.0" />
<line x1="136.05" y1="302.30" x2="136.05" y2="304.50" stroke="#000" stroke-width="1.0" />
<line x1="164.35" y1="302.30" x2="164.35" y2="304.50" stroke="#000" stroke-width="1.0" />
<line x1="192.65" y1="302.30" x2="192.65" y2="304.50" stroke="#000" stroke-width="1.0" />
<line x1="220.95" y1="302.30" x2="220.95" y2="304.50" stroke="#000" stroke-width="1.0" />
<line x1="33.00" y1="302.30" x2="37.00" y2="302.30" stroke="#000" stroke-width="1.0" />
<text x="31.5" y="304.3" font-size="9" text-anchor="end" fill="#000" textLength="4.40" lengthAdjust="spacingAndGlyphs">0</text>
<line x1="33.00" y1="277.99" x2="37.00" y2="277.99" stroke="#000" stroke-width="1.0" />
<text x="31.5" y="280.0" font-size="9" text-anchor="end" fill="#000" textLength="8.81" lengthAdjust="spacingAndGlyphs">20</text>
<line x1="33.00" y1="253.68" x2="37.00" y2="253.68" stroke="#000" stroke-width="1.0" />
<text x="31.5" y="255.7" font-size="9" text-anchor="end" fill="#000" textLength="8.81" lengthAdjust="spacingAndGlyphs">40</text>
<line x1="33.00" y1="229.37" x2="37.00" y2="229.37" stroke="#000" stroke-width="1.0" />
<text x="31.5" y="231.4" font-size="9" text-anchor="end" fill="#000" textLength="8.81" lengthAdjust="spacingAndGlyphs">60</text>
<line x1="33.00" y1="205.06" x2="37.00" y2="205.06" stroke="#000" stroke-width="1.0" />
<text x="31.5" y="207.1" font-size="9" text-anchor="end" fill="#000" textLength="8.81" lengthAdjust="spacingAndGlyphs">80</text>
<line x1="33.00" y1="180.75" x2="37.00" y2="180.75" stroke="#000" stroke-width="1.0" />
<text x="31.5" y="182.8" font-size="9" text-anchor="end" fill="#000" textLength="13.21" lengthAdjust="spacingAndGlyphs">100</text>
<line x1="33.00" y1="156.44" x2="37.00" y2="156.44" stroke="#000" stroke-width="1.0" />
<text x="31.5" y="158.4" font-size="9" text-anchor="end" fill="#000" textLength="13.21" lengthAdjust="spacingAndGlyphs">120</text>
<line x1="34.80" y1="290.14" x2="37.00" y2="290.14" stroke="#000" stroke-width="1.0" />
<line x1="34.80" y1="265.84" x2="37.00" y2="265.84" stroke="#000" stroke-width="1.0" />
<line x1="34.80" y1="241.53" x2="37.00" y2="241.53" stroke="#000" stroke-width="1.0" />
<line x1="34.80" y1="217.22" x2="37.00" y2="217.22" stroke="#000" stroke-width="1.0" />
<line x1="34.80" y1="192.91" x2="37.00" y2="192.91" stroke="#000" stroke-width="1.0" />
<line x1="34.80" y1="168.59" x2="37.00" y2="168.59" stroke="#000" stroke-width="1.0" />
<text x="1" y="146.3" font-size="21" text-anchor="start" fill="#000" >Aiii</text>
<text x="9.8" y="221.7" font-size="11.7" text-anchor="middle" fill="#000" transform="rotate(-90 9.8 221.7)" >% of granules at t=3min</text>
<text x="135" y="324.4" font-size="12.65" text-anchor="middle" fill="#000" >Time (minutes)</text>
<polyline fill="none" stroke="#000" stroke-width="1" stroke-dasharray="5.5 2.8" points="45.5,180.8 79.5,180.1 121.9,180.8 164.4,180.8 206.8,180.8"/>
<polyline fill="none" stroke="#000" stroke-width="1" points="45.5,180.8 79.5,183.2 121.9,179.9 164.4,177.1 206.8,181.4"/>
<line x1="79.45" y1="194.73" x2="79.45" y2="166.77" stroke="#000" stroke-width="0.7" />
<line x1="77.95" y1="194.73" x2="80.95" y2="194.73" stroke="#000" stroke-width="0.7" />
<line x1="77.95" y1="166.77" x2="80.95" y2="166.77" stroke="#000" stroke-width="0.7" />
<line x1="206.80" y1="193.51" x2="206.80" y2="168.59" stroke="#000" stroke-width="0.7" />
<line x1="205.30" y1="193.51" x2="208.30" y2="193.51" stroke="#000" stroke-width="0.7" />
<line x1="205.30" y1="168.59" x2="208.30" y2="168.59" stroke="#000" stroke-width="0.7" />
<rect x="77.35" y="178.04" width="4.2" height="4.2" fill="#fff" stroke="#000" stroke-width="0.7"/>
<rect x="43.19" y="178.45" width="4.6" height="4.6" fill="#000"/>
<line x1="79.45" y1="200.20" x2="79.45" y2="166.16" stroke="#000" stroke-width="0.8" />
<line x1="77.85" y1="200.20" x2="81.05" y2="200.20" stroke="#000" stroke-width="0.8" />
<line x1="77.85" y1="166.16" x2="81.05" y2="166.16" stroke="#000" stroke-width="0.8" />
<rect x="77.15" y="180.88" width="4.6" height="4.6" fill="#000"/>
<line x1="121.90" y1="186.83" x2="121.90" y2="172.24" stroke="#000" stroke-width="0.8" />
<line x1="120.30" y1="186.83" x2="123.50" y2="186.83" stroke="#000" stroke-width="0.8" />
<line x1="120.30" y1="172.24" x2="123.50" y2="172.24" stroke="#000" stroke-width="0.8" />
<rect x="119.60" y="177.60" width="4.6" height="4.6" fill="#000"/>
<line x1="164.35" y1="190.47" x2="164.35" y2="163.13" stroke="#000" stroke-width="0.8" />
<line x1="162.75" y1="190.47" x2="165.95" y2="190.47" stroke="#000" stroke-width="0.8" />
<line x1="162.75" y1="163.13" x2="165.95" y2="163.13" stroke="#000" stroke-width="0.8" />
<rect x="162.05" y="174.80" width="4.6" height="4.6" fill="#000"/>
<line x1="206.80" y1="195.94" x2="206.80" y2="165.56" stroke="#000" stroke-width="0.8" />
<line x1="205.20" y1="195.94" x2="208.40" y2="195.94" stroke="#000" stroke-width="0.8" />
<line x1="205.20" y1="165.56" x2="208.40" y2="165.56" stroke="#000" stroke-width="0.8" />
<rect x="204.50" y="179.06" width="4.6" height="4.6" fill="#000"/>
<line x1="302.50" y1="301.80" x2="302.50" y2="154.10" stroke="#000" stroke-width="1.1" />
<line x1="302.00" y1="301.30" x2="501.10" y2="301.30" stroke="#000" stroke-width="1.1" />
<line x1="302.50" y1="301.30" x2="302.50" y2="305.30" stroke="#000" stroke-width="1.0" />
<text x="302.5" y="313.6" font-size="9" text-anchor="middle" fill="#000" textLength="4.40" lengthAdjust="spacingAndGlyphs">0</text>
<line x1="330.80" y1="301.30" x2="330.80" y2="305.30" stroke="#000" stroke-width="1.0" />
<text x="330.8" y="313.6" font-size="9" text-anchor="middle" fill="#000" textLength="8.81" lengthAdjust="spacingAndGlyphs">10</text>
<line x1="359.10" y1="301.30" x2="359.10" y2="305.30" stroke="#000" stroke-width="1.0" />
<text x="359.1" y="313.6" font-size="9" text-anchor="middle" fill="#000" textLength="8.81" lengthAdjust="spacingAndGlyphs">20</text>
<line x1="387.40" y1="301.30" x2="387.40" y2="305.30" stroke="#000" stroke-width="1.0" />
<text x="387.4" y="313.6" font-size="9" text-anchor="middle" fill="#000" textLength="8.81" lengthAdjust="spacingAndGlyphs">30</text>
<line x1="415.70" y1="301.30" x2="415.70" y2="305.30" stroke="#000" stroke-width="1.0" />
<text x="415.7" y="313.6" font-size="9" text-anchor="middle" fill="#000" textLength="8.81" lengthAdjust="spacingAndGlyphs">40</text>
<line x1="444.00" y1="301.30" x2="444.00" y2="305.30" stroke="#000" stroke-width="1.0" />
<text x="444.0" y="313.6" font-size="9" text-anchor="middle" fill="#000" textLength="8.81" lengthAdjust="spacingAndGlyphs">50</text>
<line x1="472.30" y1="301.30" x2="472.30" y2="305.30" stroke="#000" stroke-width="1.0" />
<text x="472.3" y="313.6" font-size="9" text-anchor="middle" fill="#000" textLength="8.81" lengthAdjust="spacingAndGlyphs">60</text>
<line x1="500.60" y1="301.30" x2="500.60" y2="305.30" stroke="#000" stroke-width="1.0" />
<text x="500.6" y="313.6" font-size="9" text-anchor="middle" fill="#000" textLength="8.81" lengthAdjust="spacingAndGlyphs">70</text>
<line x1="316.65" y1="301.30" x2="316.65" y2="303.50" stroke="#000" stroke-width="1.0" />
<line x1="344.95" y1="301.30" x2="344.95" y2="303.50" stroke="#000" stroke-width="1.0" />
<line x1="373.25" y1="301.30" x2="373.25" y2="303.50" stroke="#000" stroke-width="1.0" />
<line x1="401.55" y1="301.30" x2="401.55" y2="303.50" stroke="#000" stroke-width="1.0" />
<line x1="429.85" y1="301.30" x2="429.85" y2="303.50" stroke="#000" stroke-width="1.0" />
<line x1="458.15" y1="301.30" x2="458.15" y2="303.50" stroke="#000" stroke-width="1.0" />
<line x1="486.45" y1="301.30" x2="486.45" y2="303.50" stroke="#000" stroke-width="1.0" />
<line x1="298.50" y1="301.30" x2="302.50" y2="301.30" stroke="#000" stroke-width="1.0" />
<text x="297.0" y="303.3" font-size="9" text-anchor="end" fill="#000" textLength="4.40" lengthAdjust="spacingAndGlyphs">0</text>
<line x1="298.50" y1="276.85" x2="302.50" y2="276.85" stroke="#000" stroke-width="1.0" />
<text x="297.0" y="278.9" font-size="9" text-anchor="end" fill="#000" textLength="8.81" lengthAdjust="spacingAndGlyphs">20</text>
<line x1="298.50" y1="252.40" x2="302.50" y2="252.40" stroke="#000" stroke-width="1.0" />
<text x="297.0" y="254.4" font-size="9" text-anchor="end" fill="#000" textLength="8.81" lengthAdjust="spacingAndGlyphs">40</text>
<line x1="298.50" y1="227.95" x2="302.50" y2="227.95" stroke="#000" stroke-width="1.0" />
<text x="297.0" y="230.0" font-size="9" text-anchor="end" fill="#000" textLength="8.81" lengthAdjust="spacingAndGlyphs">60</text>
<line x1="298.50" y1="203.50" x2="302.50" y2="203.50" stroke="#000" stroke-width="1.0" />
<text x="297.0" y="205.5" font-size="9" text-anchor="end" fill="#000" textLength="8.81" lengthAdjust="spacingAndGlyphs">80</text>
<line x1="298.50" y1="179.05" x2="302.50" y2="179.05" stroke="#000" stroke-width="1.0" />
<text x="297.0" y="181.1" font-size="9" text-anchor="end" fill="#000" textLength="13.21" lengthAdjust="spacingAndGlyphs">100</text>
<line x1="298.50" y1="154.60" x2="302.50" y2="154.60" stroke="#000" stroke-width="1.0" />
<text x="297.0" y="156.6" font-size="9" text-anchor="end" fill="#000" textLength="13.21" lengthAdjust="spacingAndGlyphs">120</text>
<line x1="300.30" y1="289.07" x2="302.50" y2="289.07" stroke="#000" stroke-width="1.0" />
<line x1="300.30" y1="264.62" x2="302.50" y2="264.62" stroke="#000" stroke-width="1.0" />
<line x1="300.30" y1="240.18" x2="302.50" y2="240.18" stroke="#000" stroke-width="1.0" />
<line x1="300.30" y1="215.73" x2="302.50" y2="215.73" stroke="#000" stroke-width="1.0" />
<line x1="300.30" y1="191.28" x2="302.50" y2="191.28" stroke="#000" stroke-width="1.0" />
<line x1="300.30" y1="166.83" x2="302.50" y2="166.83" stroke="#000" stroke-width="1.0" />
<text x="247" y="146.3" font-size="21" text-anchor="start" fill="#000" >Biii</text>
<text x="256" y="225" font-size="12.6" text-anchor="middle" fill="#000" transform="rotate(-90 256 225)" >% of granules at t=3min</text>
<text x="269.8" y="226.7" font-size="12.7" text-anchor="middle" fill="#e8141c" transform="rotate(-90 269.8 226.7)" >Unstimulated secretion</text>
<text x="282.6" y="227.5" font-size="11.8" text-anchor="middle" fill="#e8141c" transform="rotate(-90 282.6 227.5)" >% of control</text>
<text x="403.7" y="324.8" font-size="12.65" text-anchor="middle" fill="#000" >Time (minutes)</text>
<polyline fill="none" stroke="#000" stroke-width="1.1" stroke-dasharray="5 3.5" points="311.0,179.1 344.9,169.9 373.2,170.1 472.3,171.7"/>
<line x1="344.95" y1="177.83" x2="344.95" y2="161.94" stroke="#000" stroke-width="0.8" />
<line x1="342.95" y1="177.83" x2="346.95" y2="177.83" stroke="#000" stroke-width="0.8" />
<line x1="342.95" y1="161.94" x2="346.95" y2="161.94" stroke="#000" stroke-width="0.8" />
<rect x="342.95" y="167.88" width="4.0" height="4.0" fill="#fff" stroke="#000" stroke-width="0.8"/>
<line x1="472.30" y1="174.16" x2="472.30" y2="169.27" stroke="#000" stroke-width="0.8" />
<line x1="470.30" y1="174.16" x2="474.30" y2="174.16" stroke="#000" stroke-width="0.8" />
<line x1="470.30" y1="169.27" x2="474.30" y2="169.27" stroke="#000" stroke-width="0.8" />
<rect x="470.40" y="169.82" width="3.8" height="3.8" fill="#fff" stroke="#000" stroke-width="0.8"/>
<polyline fill="none" stroke="#e8141c" stroke-width="1.2" stroke-dasharray="5 3.5" points="316.6,190.1 319.2,195.4 321.8,200.4 324.4,205.1 327.0,209.6 329.6,213.8 332.2,217.8 334.8,221.6 337.4,225.1 340.0,228.5 342.6,231.6 345.2,234.6 347.8,237.5 350.4,240.1 353.0,242.7 355.6,245.0 358.2,247.3 360.8,249.4 363.3,251.4 365.9,253.3 368.5,255.1 371.1,256.8 373.7,258.4 376.3,259.9 378.9,261.3 381.5,262.6 384.1,263.9 386.7,265.1 389.3,266.2 391.9,267.3 394.5,268.3 397.1,269.3 399.7,270.2 402.3,271.0 404.9,271.8 407.4,272.6 410.0,273.3 412.6,274.0 415.2,274.6 417.8,275.2 420.4,275.8 423.0,276.3 425.6,276.8 428.2,277.3 430.8,277.7 433.4,278.2 436.0,278.6 438.6,279.0 441.2,279.3 443.8,279.7 446.4,280.0 449.0,280.3 451.5,280.6 454.1,280.8 456.7,281.1 459.3,281.3 461.9,281.6 464.5,281.8 467.1,282.0 469.7,282.2 472.3,282.3"/>
<polyline fill="none" stroke="#000" stroke-width="1.2" points="311.0,179.1 313.8,185.7 316.6,192.0 319.4,197.9 322.2,203.5 325.0,208.8 327.8,213.7 330.6,218.4 333.4,222.8 336.2,227.0 339.1,230.9 341.9,234.6 344.7,238.1 347.5,241.4 350.3,244.6 353.1,247.5 355.9,250.3 358.7,252.9 361.5,255.4 364.3,257.7 367.1,259.9 369.9,261.9 372.7,263.9 375.5,265.7 378.3,267.5 381.2,269.1 384.0,270.7 386.8,272.1 389.6,273.5 392.4,274.8 395.2,276.0 398.0,277.2 400.8,278.3 403.6,279.3 406.4,280.3 409.2,281.2 412.0,282.0 414.8,282.9 417.6,283.6 420.4,284.3 423.2,285.0 426.1,285.7 428.9,286.3 431.7,286.9 434.5,287.4 437.3,287.9 440.1,288.4 442.9,288.8 445.7,289.3 448.5,289.7 451.3,290.1 454.1,290.4 456.9,290.8 459.7,291.1 462.5,291.4 465.3,291.7 468.1,291.9 471.0,292.2 473.8,292.4 476.6,292.7 479.4,292.9"/>
<polygon points="322.31,191.07 324.18,187.67 320.44,187.67" fill="#000"/>
<polygon points="319.48,197.62 321.69,199.83 319.48,202.04 317.27,199.83" fill="#000"/>
<polygon points="327.97,200.41 329.84,203.81 326.10,203.81" fill="#000"/>
<circle cx="327.97" cy="208.39" r="1.7" fill="#000"/>
<circle cx="319.48" cy="212.06" r="1.7" fill="#000"/>
<polygon points="330.80,215.15 332.67,211.75 328.93,211.75" fill="#000"/>
<rect x="317.78" y="221.97" width="3.4" height="3.4" fill="#000"/>
<polygon points="325.14,221.46 327.35,223.67 325.14,225.88 322.93,223.67" fill="#000"/>
<circle cx="327.97" cy="228.44" r="1.7" fill="#000"/>
<polygon points="347.78,224.93 349.65,221.53 345.91,221.53" fill="#000"/>
<polygon points="336.46,234.64 338.33,238.04 334.59,238.04" fill="#000"/>
<circle cx="344.95" cy="232.84" r="1.7" fill="#000"/>
<rect x="326.27" y="238.48" width="3.4" height="3.4" fill="#000"/>
<circle cx="353.44" cy="242.62" r="1.7" fill="#000"/>
<rect x="343.25" y="262.56" width="3.4" height="3.4" fill="#000"/>
<circle cx="353.44" cy="248.12" r="1.7" fill="#000"/>
<polygon points="356.27,253.66 358.14,250.26 354.40,250.26" fill="#000"/>
<polygon points="364.76,254.27 366.63,250.87 362.89,250.87" fill="#000"/>
<circle cx="361.93" cy="258.88" r="1.7" fill="#000"/>
<circle cx="370.42" cy="261.57" r="1.7" fill="#000"/>
<rect x="368.72" y="267.20" width="3.4" height="3.4" fill="#000"/>
<polygon points="378.91,273.76 380.78,277.16 377.04,277.16" fill="#000"/>
<polygon points="384.57,250.19 386.78,252.40 384.57,254.61 382.36,252.40" fill="#000"/>
<circle cx="387.40" cy="263.40" r="1.7" fill="#000"/>
<circle cx="387.40" cy="273.18" r="1.7" fill="#000"/>
<circle cx="387.40" cy="279.30" r="1.7" fill="#000"/>
<rect x="385.70" y="283.10" width="3.4" height="3.4" fill="#000"/>
<polygon points="395.89,281.70 397.76,285.10 394.02,285.10" fill="#000"/>
<polygon points="410.04,261.19 412.25,263.40 410.04,265.61 407.83,263.40" fill="#000"/>
<circle cx="412.87" cy="279.30" r="1.7" fill="#000"/>
<polygon points="424.19,273.34 426.06,269.94 422.32,269.94" fill="#000"/>
<rect x="428.15" y="285.79" width="3.4" height="3.4" fill="#000"/>
<circle cx="429.85" cy="290.30" r="1.7" fill="#000"/>
<circle cx="438.34" cy="294.82" r="1.7" fill="#000"/>
<polygon points="469.47,294.81 471.68,297.02 469.47,299.23 467.26,297.02" fill="#000"/>
<rect x="470.60" y="292.88" width="3.4" height="3.4" fill="#000"/>
<circle cx="472.30" cy="296.41" r="1.7" fill="#000"/>
<circle cx="310.99" cy="179.05" r="2.2" fill="#fff" stroke="#000" stroke-width="0.7"/>
<circle cx="325.14" cy="216.95" r="1.8" fill="#fff" stroke="#000" stroke-width="0.7"/>
<circle cx="333.63" cy="243.84" r="1.8" fill="#fff" stroke="#000" stroke-width="0.7"/>
<circle cx="350.61" cy="260.10" r="1.8" fill="#fff" stroke="#000" stroke-width="0.7"/>
<circle cx="393.06" cy="272.33" r="1.8" fill="#fff" stroke="#000" stroke-width="0.7"/>
<polygon points="435.51,282.82 437.49,286.42 433.53,286.42" fill="#fff" stroke="#000" stroke-width="0.7"/>
<circle cx="479.38" cy="293.72" r="1.8" fill="#fff" stroke="#000" stroke-width="0.7"/>
<rect x="314.65" y="188.05" width="4.0" height="4.0" fill="#e8141c"/>
<line x1="344.95" y1="254.85" x2="344.95" y2="225.50" stroke="#e8141c" stroke-width="0.9" />
<line x1="342.95" y1="254.85" x2="346.95" y2="254.85" stroke="#e8141c" stroke-width="0.9" />
<line x1="342.95" y1="225.50" x2="346.95" y2="225.50" stroke="#e8141c" stroke-width="0.9" />
<rect x="342.95" y="239.40" width="4.0" height="4.0" fill="#e8141c"/>
<line x1="387.40" y1="273.67" x2="387.40" y2="248.73" stroke="#e8141c" stroke-width="0.9" />
<line x1="385.40" y1="273.67" x2="389.40" y2="273.67" stroke="#e8141c" stroke-width="0.9" />
<line x1="385.40" y1="248.73" x2="389.40" y2="248.73" stroke="#e8141c" stroke-width="0.9" />
<rect x="385.40" y="257.74" width="4.0" height="4.0" fill="#e8141c"/>
<line x1="472.30" y1="287.24" x2="472.30" y2="277.71" stroke="#e8141c" stroke-width="0.9" />
<line x1="470.30" y1="287.24" x2="474.30" y2="287.24" stroke="#e8141c" stroke-width="0.9" />
<line x1="470.30" y1="277.71" x2="474.30" y2="277.71" stroke="#e8141c" stroke-width="0.9" />
<rect x="470.30" y="279.98" width="4.0" height="4.0" fill="#e8141c"/>
<line x1="32.30" y1="499.70" x2="211.00" y2="499.70" stroke="#000" stroke-width="1.1" />
<line x1="32.80" y1="500.20" x2="32.80" y2="356.20" stroke="#000" stroke-width="1.1" />
<line x1="30.00" y1="499.70" x2="32.80" y2="499.70" stroke="#000" stroke-width="1.0" />
<text x="28.3" y="501.9" font-size="9" text-anchor="end" fill="#000" textLength="4.40" lengthAdjust="spacingAndGlyphs">0</text>
<line x1="30.00" y1="471.10" x2="32.80" y2="471.10" stroke="#000" stroke-width="1.0" />
<text x="28.3" y="473.3" font-size="9" text-anchor="end" fill="#000" textLength="4.40" lengthAdjust="spacingAndGlyphs">2</text>
<line x1="30.00" y1="442.50" x2="32.80" y2="442.50" stroke="#000" stroke-width="1.0" />
<text x="28.3" y="444.7" font-size="9" text-anchor="end" fill="#000" textLength="4.40" lengthAdjust="spacingAndGlyphs">4</text>
<line x1="30.00" y1="413.90" x2="32.80" y2="413.90" stroke="#000" stroke-width="1.0" />
<text x="28.3" y="416.1" font-size="9" text-anchor="end" fill="#000" textLength="4.40" lengthAdjust="spacingAndGlyphs">6</text>
<line x1="30.00" y1="385.30" x2="32.80" y2="385.30" stroke="#000" stroke-width="1.0" />
<text x="28.3" y="387.5" font-size="9" text-anchor="end" fill="#000" textLength="4.40" lengthAdjust="spacingAndGlyphs">8</text>
<line x1="30.00" y1="356.70" x2="32.80" y2="356.70" stroke="#000" stroke-width="1.0" />
<text x="28.3" y="358.9" font-size="9" text-anchor="end" fill="#000" textLength="8.81" lengthAdjust="spacingAndGlyphs">10</text>
<line x1="31.30" y1="485.40" x2="32.80" y2="485.40" stroke="#000" stroke-width="1.0" />
<line x1="31.30" y1="456.80" x2="32.80" y2="456.80" stroke="#000" stroke-width="1.0" />
<line x1="31.30" y1="428.20" x2="32.80" y2="428.20" stroke="#000" stroke-width="1.0" />
<line x1="31.30" y1="399.60" x2="32.80" y2="399.60" stroke="#000" stroke-width="1.0" />
<line x1="31.30" y1="371.00" x2="32.80" y2="371.00" stroke="#000" stroke-width="1.0" />
<text x="1" y="347" font-size="21.8" text-anchor="start" fill="#000" >Aiv</text>
<text x="12.2" y="428.6" font-size="12.5" text-anchor="middle" fill="#000" transform="rotate(-90 12.2 428.6)" >Secreted GFP (a.u.)</text>
<rect x="54.5" y="479.97" width="28.5" height="19.73" fill="#000"/>
<line x1="68.75" y1="479.97" x2="68.75" y2="462.95" stroke="#000" stroke-width="0.9" />
<line x1="66.75" y1="462.95" x2="70.75" y2="462.95" stroke="#000" stroke-width="0.9" />
<rect x="90" y="371.71" width="29" height="127.99" fill="#000"/>
<line x1="104.50" y1="371.71" x2="104.50" y2="358.85" stroke="#000" stroke-width="0.9" />
<line x1="102.50" y1="358.85" x2="106.50" y2="358.85" stroke="#000" stroke-width="0.9" />
<rect x="125" y="483.97" width="29" height="15.73" fill="#000"/>
<line x1="139.50" y1="483.97" x2="139.50" y2="471.10" stroke="#000" stroke-width="0.9" />
<line x1="137.50" y1="471.10" x2="141.50" y2="471.10" stroke="#000" stroke-width="0.9" />
<rect x="160.5" y="378.58" width="29.0" height="121.12" fill="#000"/>
<line x1="175.00" y1="378.58" x2="175.00" y2="372.00" stroke="#000" stroke-width="0.9" />
<line x1="173.00" y1="372.00" x2="177.00" y2="372.00" stroke="#000" stroke-width="0.9" />
<text x="21.3" y="519.6" font-size="14.6" text-anchor="start" fill="#000" >Hist</text>
<text x="21.3" y="537.3" font-size="14.6" text-anchor="start" fill="#000" >BFA</text>
<text x="68.7" y="519.5" font-size="13" text-anchor="middle" fill="#000" >-</text>
<text x="68.7" y="536.5" font-size="13" text-anchor="middle" fill="#000" >-</text>
<text x="104.5" y="519.5" font-size="13" text-anchor="middle" fill="#000" >+</text>
<text x="104.5" y="536.5" font-size="13" text-anchor="middle" fill="#000" >-</text>
<text x="139.5" y="519.5" font-size="13" text-anchor="middle" fill="#000" >-</text>
<text x="139.5" y="536.5" font-size="13" text-anchor="middle" fill="#000" >+</text>
<text x="175" y="519.5" font-size="13" text-anchor="middle" fill="#000" >+</text>
<text x="175" y="536.5" font-size="13" text-anchor="middle" fill="#000" >+</text>
<line x1="301.50" y1="502.70" x2="301.50" y2="355.78" stroke="#000" stroke-width="1.1" />
<line x1="301.00" y1="502.20" x2="511.20" y2="502.20" stroke="#000" stroke-width="1.1" />
<line x1="301.50" y1="502.20" x2="301.50" y2="506.20" stroke="#000" stroke-width="1.0" />
<text x="301.5" y="513.8" font-size="8.6" text-anchor="middle" fill="#000" >0</text>
<line x1="322.42" y1="502.20" x2="322.42" y2="506.20" stroke="#000" stroke-width="1.0" />
<text x="322.4" y="513.8" font-size="8.6" text-anchor="middle" fill="#000" >10</text>
<line x1="343.34" y1="502.20" x2="343.34" y2="506.20" stroke="#000" stroke-width="1.0" />
<text x="343.3" y="513.8" font-size="8.6" text-anchor="middle" fill="#000" >20</text>
<line x1="364.26" y1="502.20" x2="364.26" y2="506.20" stroke="#000" stroke-width="1.0" />
<text x="364.3" y="513.8" font-size="8.6" text-anchor="middle" fill="#000" >30</text>
<line x1="385.18" y1="502.20" x2="385.18" y2="506.20" stroke="#000" stroke-width="1.0" />
<text x="385.2" y="513.8" font-size="8.6" text-anchor="middle" fill="#000" >40</text>
<line x1="406.10" y1="502.20" x2="406.10" y2="506.20" stroke="#000" stroke-width="1.0" />
<text x="406.1" y="513.8" font-size="8.6" text-anchor="middle" fill="#000" >50</text>
<line x1="427.02" y1="502.20" x2="427.02" y2="506.20" stroke="#000" stroke-width="1.0" />
<text x="427.0" y="513.8" font-size="8.6" text-anchor="middle" fill="#000" >60</text>
<line x1="447.94" y1="502.20" x2="447.94" y2="506.20" stroke="#000" stroke-width="1.0" />
<text x="447.9" y="513.8" font-size="8.6" text-anchor="middle" fill="#000" >70</text>
<line x1="468.86" y1="502.20" x2="468.86" y2="506.20" stroke="#000" stroke-width="1.0" />
<text x="468.9" y="513.8" font-size="8.6" text-anchor="middle" fill="#000" >80</text>
<line x1="489.78" y1="502.20" x2="489.78" y2="506.20" stroke="#000" stroke-width="1.0" />
<text x="489.8" y="513.8" font-size="8.6" text-anchor="middle" fill="#000" >90</text>
<line x1="510.70" y1="502.20" x2="510.70" y2="506.20" stroke="#000" stroke-width="1.0" />
<text x="510.7" y="513.8" font-size="8.6" text-anchor="middle" fill="#000" >100</text>
<line x1="311.96" y1="502.20" x2="311.96" y2="504.40" stroke="#000" stroke-width="1.0" />
<line x1="332.88" y1="502.20" x2="332.88" y2="504.40" stroke="#000" stroke-width="1.0" />
<line x1="353.80" y1="502.20" x2="353.80" y2="504.40" stroke="#000" stroke-width="1.0" />
<line x1="374.72" y1="502.20" x2="374.72" y2="504.40" stroke="#000" stroke-width="1.0" />
<line x1="395.64" y1="502.20" x2="395.64" y2="504.40" stroke="#000" stroke-width="1.0" />
<line x1="416.56" y1="502.20" x2="416.56" y2="504.40" stroke="#000" stroke-width="1.0" />
<line x1="437.48" y1="502.20" x2="437.48" y2="504.40" stroke="#000" stroke-width="1.0" />
<line x1="458.40" y1="502.20" x2="458.40" y2="504.40" stroke="#000" stroke-width="1.0" />
<line x1="479.32" y1="502.20" x2="479.32" y2="504.40" stroke="#000" stroke-width="1.0" />
<line x1="500.24" y1="502.20" x2="500.24" y2="504.40" stroke="#000" stroke-width="1.0" />
<line x1="297.50" y1="502.20" x2="301.50" y2="502.20" stroke="#000" stroke-width="1.0" />
<text x="296.0" y="504.8" font-size="8.6" text-anchor="end" fill="#000" >0.0</text>
<line x1="297.50" y1="477.88" x2="301.50" y2="477.88" stroke="#000" stroke-width="1.0" />
<text x="296.0" y="480.5" font-size="8.6" text-anchor="end" fill="#000" >0.2</text>
<line x1="297.50" y1="453.56" x2="301.50" y2="453.56" stroke="#000" stroke-width="1.0" />
<text x="296.0" y="456.2" font-size="8.6" text-anchor="end" fill="#000" >0.4</text>
<line x1="297.50" y1="429.24" x2="301.50" y2="429.24" stroke="#000" stroke-width="1.0" />
<text x="296.0" y="431.8" font-size="8.6" text-anchor="end" fill="#000" >0.6</text>
<line x1="297.50" y1="404.92" x2="301.50" y2="404.92" stroke="#000" stroke-width="1.0" />
<text x="296.0" y="407.5" font-size="8.6" text-anchor="end" fill="#000" >0.8</text>
<line x1="297.50" y1="380.60" x2="301.50" y2="380.60" stroke="#000" stroke-width="1.0" />
<text x="296.0" y="383.2" font-size="8.6" text-anchor="end" fill="#000" >1.0</text>
<line x1="297.50" y1="356.28" x2="301.50" y2="356.28" stroke="#000" stroke-width="1.0" />
<text x="296.0" y="358.9" font-size="8.6" text-anchor="end" fill="#000" >1.2</text>
<line x1="299.30" y1="490.04" x2="301.50" y2="490.04" stroke="#000" stroke-width="1.0" />
<line x1="299.30" y1="465.72" x2="301.50" y2="465.72" stroke="#000" stroke-width="1.0" />
<line x1="299.30" y1="441.40" x2="301.50" y2="441.40" stroke="#000" stroke-width="1.0" />
<line x1="299.30" y1="417.08" x2="301.50" y2="417.08" stroke="#000" stroke-width="1.0" />
<line x1="299.30" y1="392.76" x2="301.50" y2="392.76" stroke="#000" stroke-width="1.0" />
<line x1="299.30" y1="368.44" x2="301.50" y2="368.44" stroke="#000" stroke-width="1.0" />
<text x="247" y="347" font-size="21" text-anchor="start" fill="#000" >Biv</text>
<text x="258" y="430.5" font-size="14.4" text-anchor="middle" fill="#000" transform="rotate(-90 258 430.5)" >Unstimulated secretion</text>
<text x="275.5" y="430" font-size="14" text-anchor="middle" fill="#000" transform="rotate(-90 275.5 430)" >(normalised to controls)</text>
<text x="403.2" y="531.9" font-size="14.65" text-anchor="middle" fill="#000" >Time (minutes)</text>
<line x1="311.96" y1="401.27" x2="311.96" y2="357.50" stroke="#000" stroke-width="0.8" />
<line x1="310.16" y1="401.27" x2="313.76" y2="401.27" stroke="#000" stroke-width="0.8" />
<line x1="310.16" y1="357.50" x2="313.76" y2="357.50" stroke="#000" stroke-width="0.8" />
<line x1="311.96" y1="392.76" x2="311.96" y2="368.44" stroke="#000" stroke-width="0.8" />
<line x1="310.16" y1="392.76" x2="313.76" y2="392.76" stroke="#000" stroke-width="0.8" />
<line x1="310.16" y1="368.44" x2="313.76" y2="368.44" stroke="#000" stroke-width="0.8" />
<line x1="311.96" y1="398.84" x2="311.96" y2="376.95" stroke="#000" stroke-width="0.8" />
<line x1="310.16" y1="398.84" x2="313.76" y2="398.84" stroke="#000" stroke-width="0.8" />
<line x1="310.16" y1="376.95" x2="313.76" y2="376.95" stroke="#000" stroke-width="0.8" />
<line x1="311.96" y1="397.62" x2="311.96" y2="368.44" stroke="#e8141c" stroke-width="0.8" />
<line x1="310.16" y1="397.62" x2="313.76" y2="397.62" stroke="#e8141c" stroke-width="0.8" />
<line x1="310.16" y1="368.44" x2="313.76" y2="368.44" stroke="#e8141c" stroke-width="0.8" />
<line x1="311.96" y1="400.06" x2="311.96" y2="370.87" stroke="#e8141c" stroke-width="0.8" />
<line x1="310.16" y1="400.06" x2="313.76" y2="400.06" stroke="#e8141c" stroke-width="0.8" />
<line x1="310.16" y1="370.87" x2="313.76" y2="370.87" stroke="#e8141c" stroke-width="0.8" />
<rect x="309.76" y="385.70" width="4.4" height="4.4" fill="#fff" stroke="#000" stroke-width="0.7"/>
<circle cx="311.96" cy="379.38" r="2.4" fill="#1a0000"/>
<rect x="309.56" y="378.20" width="4.8" height="4.8" fill="#1a0000"/>
<circle cx="311.96" cy="383.03" r="2.4" fill="#e8141c"/>
<rect x="309.56" y="383.06" width="4.8" height="4.8" fill="#e8141c"/>
<line x1="332.88" y1="429.24" x2="332.88" y2="412.82" stroke="#000" stroke-width="0.8" />
<line x1="331.08" y1="429.24" x2="334.68" y2="429.24" stroke="#000" stroke-width="0.8" />
<line x1="331.08" y1="412.82" x2="334.68" y2="412.82" stroke="#000" stroke-width="0.8" />
<line x1="332.88" y1="435.32" x2="332.88" y2="421.94" stroke="#000" stroke-width="0.8" />
<line x1="331.08" y1="435.32" x2="334.68" y2="435.32" stroke="#000" stroke-width="0.8" />
<line x1="331.08" y1="421.94" x2="334.68" y2="421.94" stroke="#000" stroke-width="0.8" />
<line x1="332.88" y1="445.05" x2="332.88" y2="430.46" stroke="#000" stroke-width="0.8" />
<line x1="331.08" y1="445.05" x2="334.68" y2="445.05" stroke="#000" stroke-width="0.8" />
<line x1="331.08" y1="430.46" x2="334.68" y2="430.46" stroke="#000" stroke-width="0.8" />
<line x1="332.88" y1="448.70" x2="332.88" y2="421.94" stroke="#e8141c" stroke-width="0.8" />
<line x1="331.08" y1="448.70" x2="334.68" y2="448.70" stroke="#e8141c" stroke-width="0.8" />
<line x1="331.08" y1="421.94" x2="334.68" y2="421.94" stroke="#e8141c" stroke-width="0.8" />
<line x1="332.88" y1="445.05" x2="332.88" y2="426.81" stroke="#e8141c" stroke-width="0.8" />
<line x1="331.08" y1="445.05" x2="334.68" y2="445.05" stroke="#e8141c" stroke-width="0.8" />
<line x1="331.08" y1="426.81" x2="334.68" y2="426.81" stroke="#e8141c" stroke-width="0.8" />
<rect x="330.68" y="435.55" width="4.4" height="4.4" fill="#fff" stroke="#000" stroke-width="0.7"/>
<circle cx="332.88" cy="421.34" r="2.4" fill="#1a0000"/>
<rect x="330.48" y="426.23" width="4.8" height="4.8" fill="#1a0000"/>
<circle cx="332.88" cy="435.32" r="2.4" fill="#e8141c"/>
<rect x="330.48" y="433.53" width="4.8" height="4.8" fill="#e8141c"/>
<line x1="364.26" y1="448.70" x2="364.26" y2="442.62" stroke="#000" stroke-width="0.8" />
<line x1="362.46" y1="448.70" x2="366.06" y2="448.70" stroke="#000" stroke-width="0.8" />
<line x1="362.46" y1="442.62" x2="366.06" y2="442.62" stroke="#000" stroke-width="0.8" />
<line x1="364.26" y1="452.34" x2="364.26" y2="445.05" stroke="#000" stroke-width="0.8" />
<line x1="362.46" y1="452.34" x2="366.06" y2="452.34" stroke="#000" stroke-width="0.8" />
<line x1="362.46" y1="445.05" x2="366.06" y2="445.05" stroke="#000" stroke-width="0.8" />
<line x1="364.26" y1="454.78" x2="364.26" y2="448.70" stroke="#000" stroke-width="0.8" />
<line x1="362.46" y1="454.78" x2="366.06" y2="454.78" stroke="#000" stroke-width="0.8" />
<line x1="362.46" y1="448.70" x2="366.06" y2="448.70" stroke="#000" stroke-width="0.8" />
<line x1="364.26" y1="465.72" x2="364.26" y2="447.48" stroke="#e8141c" stroke-width="0.8" />
<line x1="362.46" y1="465.72" x2="366.06" y2="465.72" stroke="#e8141c" stroke-width="0.8" />
<line x1="362.46" y1="447.48" x2="366.06" y2="447.48" stroke="#e8141c" stroke-width="0.8" />
<line x1="364.26" y1="462.07" x2="364.26" y2="448.70" stroke="#e8141c" stroke-width="0.8" />
<line x1="362.46" y1="462.07" x2="366.06" y2="462.07" stroke="#e8141c" stroke-width="0.8" />
<line x1="362.46" y1="448.70" x2="366.06" y2="448.70" stroke="#e8141c" stroke-width="0.8" />
<circle cx="364.26" cy="445.66" r="2.4" fill="#1a0000"/>
<rect x="361.86" y="446.30" width="4.8" height="4.8" fill="#1a0000"/>
<circle cx="364.26" cy="451.74" r="2.4" fill="#1a0000"/>
<rect x="361.86" y="454.20" width="4.8" height="4.8" fill="#e8141c"/>
<circle cx="364.26" cy="455.38" r="2.4" fill="#e8141c"/>
<line x1="427.02" y1="469.37" x2="427.02" y2="464.50" stroke="#000" stroke-width="0.8" />
<line x1="425.22" y1="469.37" x2="428.82" y2="469.37" stroke="#000" stroke-width="0.8" />
<line x1="425.22" y1="464.50" x2="428.82" y2="464.50" stroke="#000" stroke-width="0.8" />
<line x1="427.02" y1="471.80" x2="427.02" y2="465.72" stroke="#000" stroke-width="0.8" />
<line x1="425.22" y1="471.80" x2="428.82" y2="471.80" stroke="#000" stroke-width="0.8" />
<line x1="425.22" y1="465.72" x2="428.82" y2="465.72" stroke="#000" stroke-width="0.8" />
<line x1="427.02" y1="475.45" x2="427.02" y2="470.58" stroke="#000" stroke-width="0.8" />
<line x1="425.22" y1="475.45" x2="428.82" y2="475.45" stroke="#000" stroke-width="0.8" />
<line x1="425.22" y1="470.58" x2="428.82" y2="470.58" stroke="#000" stroke-width="0.8" />
<line x1="427.02" y1="481.53" x2="427.02" y2="471.80" stroke="#e8141c" stroke-width="0.8" />
<line x1="425.22" y1="481.53" x2="428.82" y2="481.53" stroke="#e8141c" stroke-width="0.8" />
<line x1="425.22" y1="471.80" x2="428.82" y2="471.80" stroke="#e8141c" stroke-width="0.8" />
<line x1="427.02" y1="480.31" x2="427.02" y2="471.80" stroke="#e8141c" stroke-width="0.8" />
<line x1="425.22" y1="480.31" x2="428.82" y2="480.31" stroke="#e8141c" stroke-width="0.8" />
<line x1="425.22" y1="471.80" x2="428.82" y2="471.80" stroke="#e8141c" stroke-width="0.8" />
<rect x="424.82" y="470.82" width="4.4" height="4.4" fill="#fff" stroke="#000" stroke-width="0.7"/>
<circle cx="427.02" cy="466.94" r="2.4" fill="#1a0000"/>
<rect x="424.62" y="466.36" width="4.8" height="4.8" fill="#1a0000"/>
<circle cx="427.02" cy="476.66" r="2.4" fill="#e8141c"/>
<rect x="424.62" y="473.66" width="4.8" height="4.8" fill="#e8141c"/>
<line x1="489.78" y1="485.18" x2="489.78" y2="474.84" stroke="#e8141c" stroke-width="0.8" />
<line x1="487.98" y1="485.18" x2="491.58" y2="485.18" stroke="#e8141c" stroke-width="0.8" />
<line x1="487.98" y1="474.84" x2="491.58" y2="474.84" stroke="#e8141c" stroke-width="0.8" />
<line x1="489.78" y1="486.39" x2="489.78" y2="476.66" stroke="#e8141c" stroke-width="0.8" />
<line x1="487.98" y1="486.39" x2="491.58" y2="486.39" stroke="#e8141c" stroke-width="0.8" />
<line x1="487.98" y1="476.66" x2="491.58" y2="476.66" stroke="#e8141c" stroke-width="0.8" />
<line x1="489.78" y1="486.39" x2="489.78" y2="479.10" stroke="#000" stroke-width="0.8" />
<line x1="487.98" y1="486.39" x2="491.58" y2="486.39" stroke="#000" stroke-width="0.8" />
<line x1="487.98" y1="479.10" x2="491.58" y2="479.10" stroke="#000" stroke-width="0.8" />
<line x1="489.78" y1="487.61" x2="489.78" y2="482.74" stroke="#000" stroke-width="0.8" />
<line x1="487.98" y1="487.61" x2="491.58" y2="487.61" stroke="#000" stroke-width="0.8" />
<line x1="487.98" y1="482.74" x2="491.58" y2="482.74" stroke="#000" stroke-width="0.8" />
<line x1="489.78" y1="487.61" x2="489.78" y2="480.31" stroke="#000" stroke-width="0.8" />
<line x1="487.98" y1="487.61" x2="491.58" y2="487.61" stroke="#000" stroke-width="0.8" />
<line x1="487.98" y1="480.31" x2="491.58" y2="480.31" stroke="#000" stroke-width="0.8" />
<rect x="487.58" y="481.76" width="4.4" height="4.4" fill="#fff" stroke="#000" stroke-width="0.7"/>
<rect x="487.38" y="480.34" width="4.8" height="4.8" fill="#1a0000"/>
<circle cx="489.78" cy="485.18" r="2.4" fill="#1a0000"/>
<rect x="487.38" y="477.91" width="4.8" height="4.8" fill="#e8141c"/>
<circle cx="489.78" cy="481.53" r="2.4" fill="#e8141c"/>
</svg>
</body></html>
